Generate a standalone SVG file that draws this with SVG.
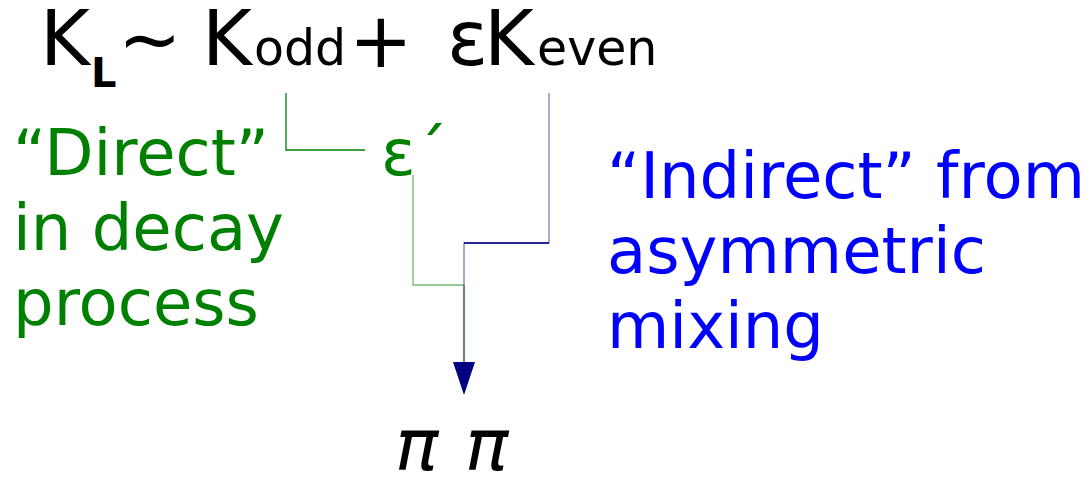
<svg xmlns="http://www.w3.org/2000/svg" width="1090" height="477" viewBox="0 0 1090 477">
<defs>
<style>
text{font-family:"DejaVu Sans",sans-serif}
.g{fill:#008000;font-size:64px}
.b{fill:#0000ff;font-size:64px}
.k{fill:#000;font-size:76px}
.sm{fill:#000;font-size:49px}
</style>
</defs>
<rect width="1090" height="477" fill="#fff"/>
<g id="formula">
<text class="k" x="40" y="65">K</text>
<text x="91" y="87" font-size="40" font-weight="bold">L</text>
<text class="k" x="118" y="65">~</text>
<text class="k" x="202" y="65">K</text>
<text class="sm" x="254" y="65">odd</text>
<text class="k" x="349" y="67" font-size="82">+</text>
<text class="k" x="447" y="65" font-size="80">ε</text>
<text class="k" x="484" y="65">K</text>
<text class="sm" x="537" y="65">even</text>
</g>
<g id="direct">
<text class="g" x="13" y="175">“Direct”</text>
<text class="g" x="13" y="250">in decay</text>
<text class="g" x="13" y="325">process</text>
</g>
<g id="epsprime">
<text class="g" x="381" y="175">ε´</text>
</g>
<g id="indirect">
<text class="b" x="607" y="198">“Indirect” from</text>
<text class="b" x="607" y="273">asymmetric</text>
<text class="b" x="607" y="348">mixing</text>
</g>
<g id="pipi" font-family="'Liberation Serif',serif" font-style="italic" font-size="72">
<text x="395" y="470">π</text>
<text x="465" y="470">π</text>
</g>
<g id="connectors" fill="none" stroke-width="1.3">
<polyline points="286,93 286,150 365,150" stroke="#008000"/>
<polyline points="413,175 413,285 464,285" stroke="#74b874"/>
<polyline points="549,93 549,243 464,243 464,285" stroke="#7a7ab8"/>
<line x1="464" y1="243" x2="549" y2="243" stroke="#000080"/>
<line x1="464" y1="285" x2="464" y2="362" stroke="#335577" stroke-width="1.5"/>
<path d="M453,362 L475,362 L464,395 Z" fill="#000080" stroke="none"/>
</g>
</svg>
